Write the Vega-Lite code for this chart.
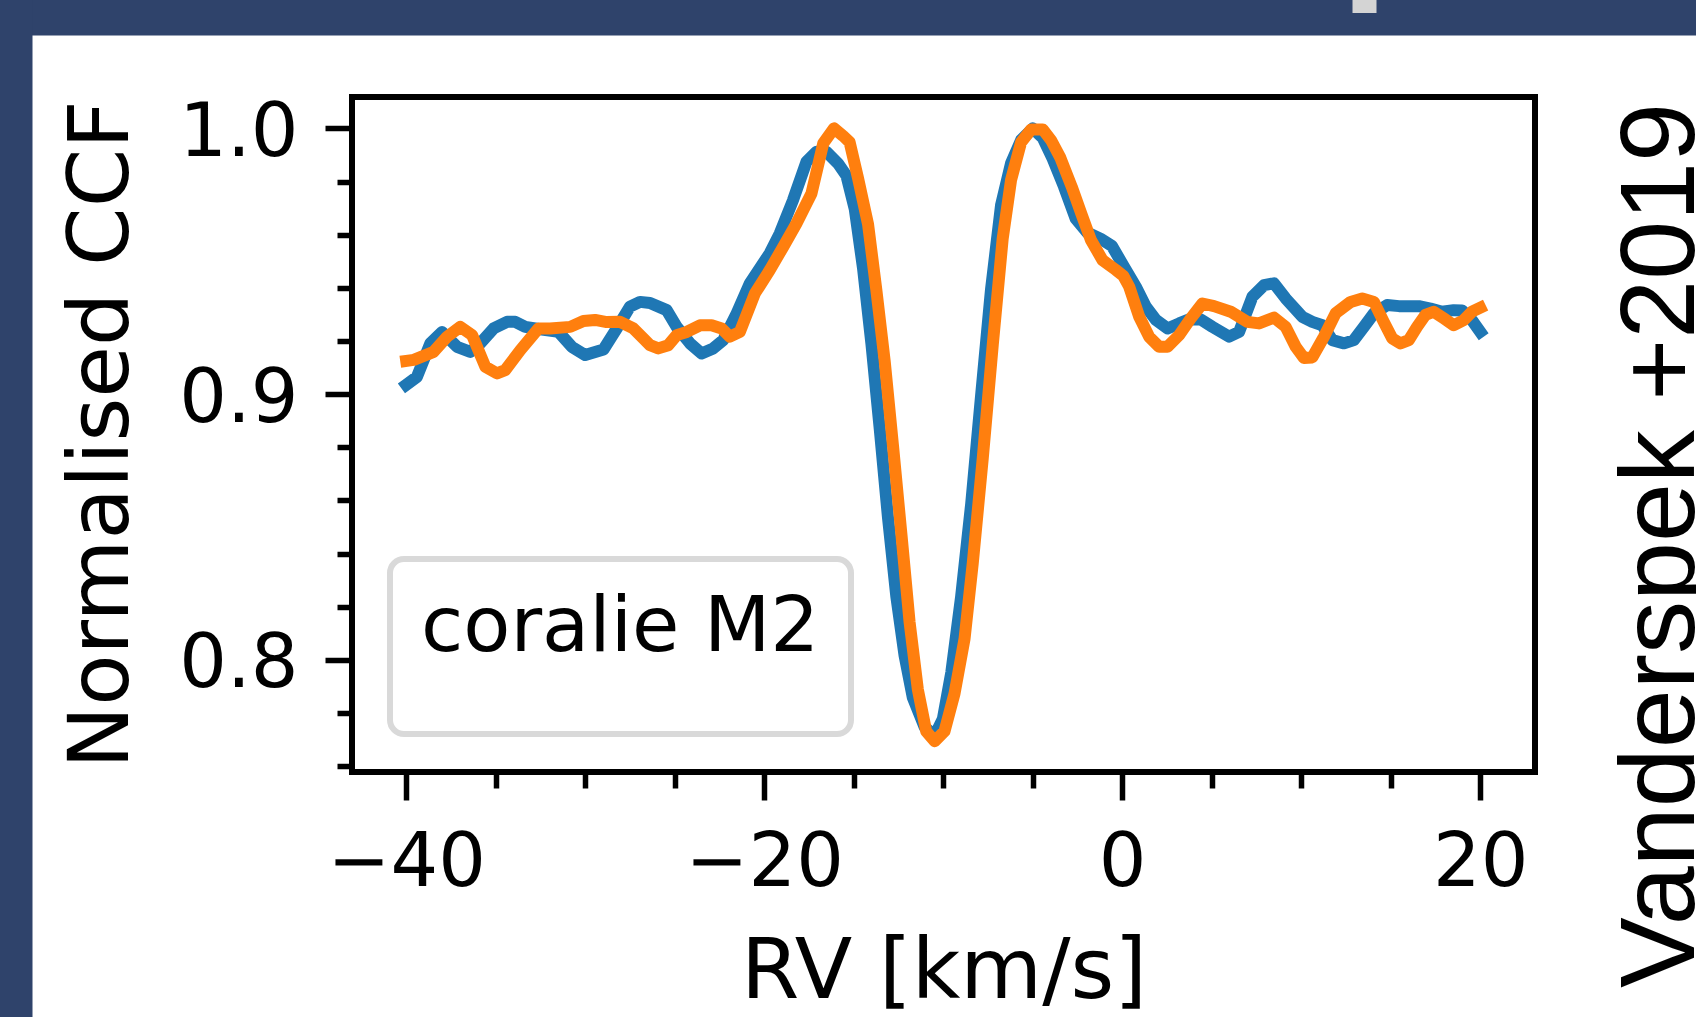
{
"$schema": "https://vega.github.io/schema/vega-lite/v6.json",
"width": 1183,
"height": 675,
"autosize": {"type": "none"},
"padding": {"left": 352, "top": 97, "right": 161, "bottom": 245},
"background": "white",
"config": {"view": {"stroke": "black", "strokeWidth": 6, "fill": "white"}},
"data": {"values": [
{"s":"a","rv":-40.0,"ccf":0.9035},{"s":"a","rv":-39.4,"ccf":0.9065},{"s":"a","rv":-38.65,"ccf":0.9191},{"s":"a","rv":-38.0,"ccf":0.9234},{"s":"a","rv":-37.16,"ccf":0.9178},{"s":"a","rv":-36.42,"ccf":0.9159},{"s":"a","rv":-35.86,"ccf":0.9191},{"s":"a","rv":-35.12,"ccf":0.9247},{"s":"a","rv":-34.37,"ccf":0.9272},{"s":"a","rv":-33.91,"ccf":0.9272},{"s":"a","rv":-33.35,"ccf":0.9253},{"s":"a","rv":-32.51,"ccf":0.9244},{"s":"a","rv":-31.49,"ccf":0.9234},{"s":"a","rv":-30.75,"ccf":0.9178},{"s":"a","rv":-30.0,"ccf":0.9147},{"s":"a","rv":-28.98,"ccf":0.9168},{"s":"a","rv":-28.24,"ccf":0.9247},{"s":"a","rv":-27.5,"ccf":0.9329},{"s":"a","rv":-26.94,"ccf":0.9347},{"s":"a","rv":-26.38,"ccf":0.9343},{"s":"a","rv":-25.45,"ccf":0.9316},{"s":"a","rv":-24.89,"ccf":0.9253},{"s":"a","rv":-24.15,"ccf":0.9191},{"s":"a","rv":-23.5,"ccf":0.9153},{"s":"a","rv":-22.85,"ccf":0.9172},{"s":"a","rv":-22.29,"ccf":0.9203},{"s":"a","rv":-21.54,"ccf":0.9304},{"s":"a","rv":-20.8,"ccf":0.9417},{"s":"a","rv":-19.69,"ccf":0.953},{"s":"a","rv":-19.13,"ccf":0.9605},{"s":"a","rv":-18.39,"ccf":0.973},{"s":"a","rv":-17.64,"ccf":0.9874},{"s":"a","rv":-17.08,"ccf":0.9912},{"s":"a","rv":-16.53,"ccf":0.9912},{"s":"a","rv":-15.88,"ccf":0.9868},{"s":"a","rv":-15.41,"ccf":0.9822},{"s":"a","rv":-14.94,"ccf":0.9695},{"s":"a","rv":-14.48,"ccf":0.9473},{"s":"a","rv":-14.01,"ccf":0.9188},{"s":"a","rv":-13.55,"ccf":0.8871},{"s":"a","rv":-13.09,"ccf":0.8538},{"s":"a","rv":-12.62,"ccf":0.8238},{"s":"a","rv":-12.16,"ccf":0.8016},{"s":"a","rv":-11.7,"ccf":0.7858},{"s":"a","rv":-11.04,"ccf":0.7747},{"s":"a","rv":-10.48,"ccf":0.7715},{"s":"a","rv":-10.02,"ccf":0.7778},{"s":"a","rv":-9.55,"ccf":0.7952},{"s":"a","rv":-9.0,"ccf":0.8238},{"s":"a","rv":-8.44,"ccf":0.8586},{"s":"a","rv":-7.88,"ccf":0.8998},{"s":"a","rv":-7.33,"ccf":0.9394},{"s":"a","rv":-6.77,"ccf":0.9711},{"s":"a","rv":-6.21,"ccf":0.9869},{"s":"a","rv":-5.65,"ccf":0.9956},{"s":"a","rv":-5.0,"ccf":1.0},{"s":"a","rv":-4.44,"ccf":0.9964},{"s":"a","rv":-3.88,"ccf":0.9885},{"s":"a","rv":-3.25,"ccf":0.978},{"s":"a","rv":-2.6,"ccf":0.966},{"s":"a","rv":-1.96,"ccf":0.9608},{"s":"a","rv":-1.22,"ccf":0.9585},{"s":"a","rv":-0.58,"ccf":0.9558},{"s":"a","rv":0.05,"ccf":0.9485},{"s":"a","rv":0.76,"ccf":0.9404},{"s":"a","rv":1.32,"ccf":0.9329},{"s":"a","rv":1.88,"ccf":0.9279},{"s":"a","rv":2.53,"ccf":0.9247},{"s":"a","rv":3.18,"ccf":0.9266},{"s":"a","rv":3.74,"ccf":0.9281},{"s":"a","rv":4.39,"ccf":0.9281},{"s":"a","rv":5.04,"ccf":0.9253},{"s":"a","rv":5.97,"ccf":0.9216},{"s":"a","rv":6.53,"ccf":0.9234},{"s":"a","rv":7.27,"ccf":0.9366},{"s":"a","rv":7.92,"ccf":0.941},{"s":"a","rv":8.48,"ccf":0.9417},{"s":"a","rv":9.13,"ccf":0.936},{"s":"a","rv":10.06,"ccf":0.9291},{"s":"a","rv":10.62,"ccf":0.9272},{"s":"a","rv":11.18,"ccf":0.9259},{"s":"a","rv":11.74,"ccf":0.9203},{"s":"a","rv":12.39,"ccf":0.9191},{"s":"a","rv":12.94,"ccf":0.9203},{"s":"a","rv":13.5,"ccf":0.9253},{"s":"a","rv":14.06,"ccf":0.9304},{"s":"a","rv":14.8,"ccf":0.9335},{"s":"a","rv":15.46,"ccf":0.9331},{"s":"a","rv":16.57,"ccf":0.9331},{"s":"a","rv":17.22,"ccf":0.9322},{"s":"a","rv":17.87,"ccf":0.931},{"s":"a","rv":18.52,"ccf":0.9316},{"s":"a","rv":18.99,"ccf":0.9315},{"s":"a","rv":19.54,"ccf":0.9278},{"s":"a","rv":20.0,"ccf":0.9234},
{"s":"b","rv":-40.0,"ccf":0.9125},{"s":"b","rv":-39.58,"ccf":0.9129},{"s":"b","rv":-38.47,"ccf":0.9159},{"s":"b","rv":-37.72,"ccf":0.9216},{"s":"b","rv":-36.98,"ccf":0.9253},{"s":"b","rv":-36.32,"ccf":0.9222},{"s":"b","rv":-35.58,"ccf":0.9103},{"s":"b","rv":-34.93,"ccf":0.9078},{"s":"b","rv":-34.47,"ccf":0.909},{"s":"b","rv":-33.63,"ccf":0.9165},{"s":"b","rv":-32.61,"ccf":0.9247},{"s":"b","rv":-31.96,"ccf":0.9247},{"s":"b","rv":-30.84,"ccf":0.9253},{"s":"b","rv":-30.1,"ccf":0.9275},{"s":"b","rv":-29.45,"ccf":0.9279},{"s":"b","rv":-28.8,"ccf":0.9271},{"s":"b","rv":-28.05,"ccf":0.9272},{"s":"b","rv":-27.31,"ccf":0.9247},{"s":"b","rv":-26.75,"ccf":0.9209},{"s":"b","rv":-26.38,"ccf":0.9184},{"s":"b","rv":-25.92,"ccf":0.9172},{"s":"b","rv":-25.36,"ccf":0.9184},{"s":"b","rv":-24.89,"ccf":0.9222},{"s":"b","rv":-24.33,"ccf":0.9234},{"s":"b","rv":-23.59,"ccf":0.9259},{"s":"b","rv":-22.94,"ccf":0.9259},{"s":"b","rv":-22.38,"ccf":0.9247},{"s":"b","rv":-21.92,"ccf":0.9216},{"s":"b","rv":-21.36,"ccf":0.9234},{"s":"b","rv":-20.52,"ccf":0.9379},{"s":"b","rv":-19.69,"ccf":0.9467},{"s":"b","rv":-18.94,"ccf":0.9554},{"s":"b","rv":-18.2,"ccf":0.9642},{"s":"b","rv":-17.36,"ccf":0.9755},{"s":"b","rv":-16.7,"ccf":0.9944},{"s":"b","rv":-16.1,"ccf":1.0},{"s":"b","rv":-15.6,"ccf":0.9972},{"s":"b","rv":-15.23,"ccf":0.9948},{"s":"b","rv":-14.76,"ccf":0.9813},{"s":"b","rv":-14.2,"ccf":0.9639},{"s":"b","rv":-13.74,"ccf":0.9394},{"s":"b","rv":-13.27,"ccf":0.9124},{"s":"b","rv":-12.81,"ccf":0.8808},{"s":"b","rv":-12.34,"ccf":0.8475},{"s":"b","rv":-11.88,"ccf":0.8142},{"s":"b","rv":-11.42,"ccf":0.7889},{"s":"b","rv":-10.95,"ccf":0.7731},{"s":"b","rv":-10.48,"ccf":0.7694},{"s":"b","rv":-9.93,"ccf":0.7731},{"s":"b","rv":-9.37,"ccf":0.7873},{"s":"b","rv":-8.81,"ccf":0.8079},{"s":"b","rv":-8.35,"ccf":0.8364},{"s":"b","rv":-7.79,"ccf":0.876},{"s":"b","rv":-7.23,"ccf":0.9188},{"s":"b","rv":-6.68,"ccf":0.9584},{"s":"b","rv":-6.21,"ccf":0.9806},{"s":"b","rv":-5.65,"ccf":0.9948},{"s":"b","rv":-5.09,"ccf":0.9996},{"s":"b","rv":-4.44,"ccf":0.9996},{"s":"b","rv":-3.98,"ccf":0.9956},{"s":"b","rv":-3.46,"ccf":0.989},{"s":"b","rv":-2.82,"ccf":0.978},{"s":"b","rv":-2.29,"ccf":0.968},{"s":"b","rv":-1.75,"ccf":0.958},{"s":"b","rv":-1.1,"ccf":0.9504},{"s":"b","rv":-0.35,"ccf":0.9467},{"s":"b","rv":0.06,"ccf":0.9445},{"s":"b","rv":0.39,"ccf":0.9404},{"s":"b","rv":0.95,"ccf":0.9291},{"s":"b","rv":1.5,"ccf":0.9216},{"s":"b","rv":2.06,"ccf":0.9178},{"s":"b","rv":2.53,"ccf":0.9178},{"s":"b","rv":3.18,"ccf":0.9222},{"s":"b","rv":3.83,"ccf":0.9285},{"s":"b","rv":4.48,"ccf":0.9341},{"s":"b","rv":5.13,"ccf":0.9331},{"s":"b","rv":6.06,"ccf":0.931},{"s":"b","rv":6.99,"ccf":0.9272},{"s":"b","rv":7.64,"ccf":0.9266},{"s":"b","rv":8.48,"ccf":0.9288},{"s":"b","rv":9.13,"ccf":0.9253},{"s":"b","rv":9.69,"ccf":0.9178},{"s":"b","rv":10.15,"ccf":0.9136},{"s":"b","rv":10.62,"ccf":0.9138},{"s":"b","rv":11.27,"ccf":0.9216},{"s":"b","rv":11.92,"ccf":0.9304},{"s":"b","rv":12.76,"ccf":0.9347},{"s":"b","rv":13.41,"ccf":0.936},{"s":"b","rv":14.06,"ccf":0.9347},{"s":"b","rv":14.61,"ccf":0.9272},{"s":"b","rv":15.08,"ccf":0.921},{"s":"b","rv":15.54,"ccf":0.9191},{"s":"b","rv":16.01,"ccf":0.9203},{"s":"b","rv":16.47,"ccf":0.9253},{"s":"b","rv":16.94,"ccf":0.9298},{"s":"b","rv":17.4,"ccf":0.931},{"s":"b","rv":17.96,"ccf":0.9285},{"s":"b","rv":18.52,"ccf":0.9259},{"s":"b","rv":19.07,"ccf":0.9278},{"s":"b","rv":19.54,"ccf":0.931},{"s":"b","rv":20.0,"ccf":0.9325}
]},
"resolve": {"axis": {"x": "independent", "y": "independent"}},
"layer": [
{
"mark": {"type": "line", "strokeWidth": 12, "strokeCap": "square", "strokeJoin": "round"},
"encoding": {
"x": {"field": "rv", "type": "quantitative",
 "scale": {"domain": [-43.03, 23.06], "nice": false, "zero": false},
 "axis": {"orient": "bottom", "values": [-40,-35,-30,-25,-20,-15,-10,-5,0,5,10,15,20],
  "labelExpr": "datum.value % 20 == 0 ? format(datum.value, 'd') : ''",
  "domain": false, "grid": false, "tickColor": "black", "tickWidth": 5.5,
  "tickSize": {"condition": {"test": "datum.value % 20 == 0", "value": 28}, "value": 16},
  "labelFont": "DejaVu Sans", "labelFontSize": 75, "labelColor": "black", "labelPadding": 26,
  "labelOverlap": false, "labelFlush": false, "labelBound": false,
  "title": "RV [km/s]", "titleFont": "DejaVu Sans", "titleFontSize": 84, "titleFontWeight": "normal", "titleColor": "black",
  "titleX": 591.5, "titleY": 225, "titleAlign": "center", "titleBaseline": "alphabetic", "titleAngle": 0}},
"y": {"field": "ccf", "type": "quantitative",
 "scale": {"domain": [0.7578, 1.0118], "nice": false, "zero": false},
 "axis": {"orient": "left", "values": [0.76,0.78,0.8,0.82,0.84,0.86,0.88,0.9,0.92,0.94,0.96,0.98,1.0],
  "labelExpr": "abs(datum.value*10 - round(datum.value*10)) < 0.001 ? format(datum.value, '.1f') : ''",
  "domain": false, "grid": false, "tickColor": "black", "tickWidth": 5.5,
  "tickSize": {"condition": {"test": "abs(datum.value*10 - round(datum.value*10)) < 0.001", "value": 27}, "value": 15},
  "labelFont": "DejaVu Sans", "labelFontSize": 75, "labelColor": "black", "labelPadding": 27, "labelOffset": 4,
  "labelOverlap": false, "labelFlush": false, "labelBound": false,
  "title": "Normalised CCF", "titleFont": "DejaVu Sans", "titleFontSize": 84, "titleFontWeight": "normal", "titleColor": "black",
  "titleX": -224.7, "titleY": 337, "titleAlign": "center", "titleBaseline": "alphabetic", "titleAngle": 270}},
"color": {"field": "s", "type": "nominal",
 "scale": {"domain": ["a", "b"], "range": ["#1f77b4", "#ff7f0e"]},
 "legend": {"title": "coralie M2", "orient": "bottom-left", "offset": 38, "padding": 31,
  "direction": "horizontal", "strokeColor": "#d9d9d9", "fillColor": "white", "cornerRadius": 14,
  "titleFont": "DejaVu Sans", "titleFontSize": 77, "titleFontWeight": "normal", "titleColor": "black", "titlePadding": 24, "titleLimit": 2000,
  "labelExpr": "''", "labelFontSize": 12, "symbolSize": 144, "symbolOpacity": 0, "symbolStrokeWidth": 0,
  "encode": {"legend": {"update": {"strokeWidth": {"value": 6}}}}}}
}
},
{
"mark": {"type": "point", "opacity": 0},
"encoding": {
"x": {"field": "rv", "type": "quantitative",
 "axis": {"orient": "top", "offset": 62, "values": [-10], "labels": false, "domain": false, "grid": false, "title": null,
  "tickSize": 40, "tickWidth": 3600, "tickColor": "#2f436b", "tickOpacity": 1}},
"y": {"field": "ccf", "type": "quantitative",
 "axis": {"orient": "right", "labels": false, "ticks": false, "domain": false, "grid": false,
  "title": "Vanderspek +2019", "titleFont": "Liberation Sans", "titleFontSize": 106, "titleFontWeight": "normal", "titleColor": "black", "titleLimit": 3000,
  "titleX": 158, "titleY": 448, "titleAngle": 270, "titleAlign": "center", "titleBaseline": "alphabetic"}}
}
},
{
"mark": {"type": "point", "opacity": 0},
"encoding": {
"x": {"field": "rv", "type": "quantitative",
 "axis": {"orient": "top", "offset": 84.5, "values": [13.5], "labels": false, "domain": false, "grid": false, "title": null,
  "tickSize": 20, "tickWidth": 24, "tickColor": "#d4d4d4", "tickOpacity": 1}},
"y": {"field": "ccf", "type": "quantitative",
 "axis": {"orient": "left", "offset": 320, "values": [0.88], "labels": false, "domain": false, "grid": false, "title": null,
  "tickSize": 40, "tickWidth": 3000, "tickColor": "#2f436b", "tickOpacity": 1}}
}
}
]
}
